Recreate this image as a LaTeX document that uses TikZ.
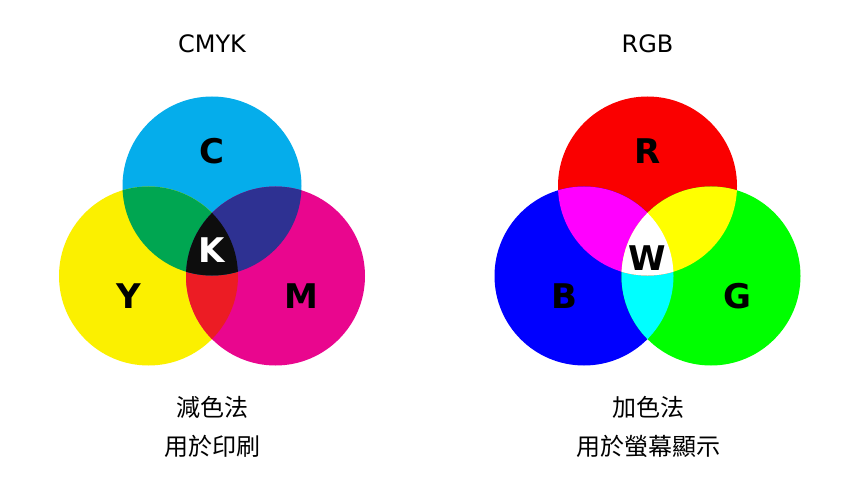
\documentclass[tikz,border=0pt]{standalone}
\usepackage{fontspec}
\setsansfont{DejaVu Sans}
\newfontfamily\cjk{Noto Sans CJK TC}

\definecolor{cyanP}{HTML}{05ADEB}
\definecolor{magentaP}{HTML}{E9068E}
\definecolor{yellowP}{HTML}{FBF000}
\definecolor{greenP}{HTML}{00A651}
\definecolor{blueP}{HTML}{2E3192}
\definecolor{redP}{HTML}{EC1C24}
\definecolor{blackP}{HTML}{0D0D0D}
\definecolor{redL}{HTML}{FA0000}
\definecolor{greenL}{HTML}{00FF00}
\definecolor{blueL}{HTML}{0000FF}
\definecolor{magentaL}{HTML}{FF00FF}
\definecolor{yellowL}{HTML}{FFFF00}
\definecolor{cyanL}{HTML}{00FFFF}

\begin{document}
\begin{tikzpicture}[x=1pt, y=-1pt]
    % Styles
    \tikzstyle{title} = [font=\sffamily\fontsize{24}{28}\selectfont, text=black]
    \tikzstyle{letter} = [font=\sffamily\bfseries\fontsize{34}{38}\selectfont, text=black]
    \tikzstyle{caption} = [font=\cjk\fontsize{24}{28}\selectfont, text=black]

    \fill[white] (0,0) rectangle (860,500);
    \useasboundingbox (0,0) rectangle (860,500);

    % CMYK
    \fill[cyanP] (212,186) circle (89.5pt);
    \fill[yellowP] (148.5,276) circle (89.5pt);
    \fill[magentaP] (275.5,276) circle (89.5pt);
    \begin{scope}
        \clip (148.5,276) circle (89.5pt);
        \fill[redP] (275.5,276) circle (89.5pt);
    \end{scope}
    \begin{scope}
        \clip (212,186) circle (89.5pt);
        \fill[greenP] (148.5,276) circle (89.5pt);
        \fill[blueP] (275.5,276) circle (89.5pt);
        \clip (148.5,276) circle (89.5pt);
        \fill[blackP] (275.5,276) circle (89.5pt);
    \end{scope}

    % RGB
    \fill[redL] (647.5,186) circle (89.5pt);
    \fill[blueL] (584,276) circle (89.5pt);
    \fill[greenL] (711,276) circle (89.5pt);
    \begin{scope}
        \clip (584,276) circle (89.5pt);
        \fill[cyanL] (711,276) circle (89.5pt);
    \end{scope}
    \begin{scope}
        \clip (647.5,186) circle (89.5pt);
        \fill[magentaL] (584,276) circle (89.5pt);
        \fill[yellowL] (711,276) circle (89.5pt);
        \clip (584,276) circle (89.5pt);
        \fill[white] (711,276) circle (89.5pt);
    \end{scope}

    % Titres
    \node (cmyk) [title] at (212,44) {CMYK};
    \node (rgb) [title] at (647.5,44) {RGB};

    % Lettres
    \node (c) [letter] at (212,151) {C};
    \node (y) [letter] at (129,296) {Y};
    \node (m) [letter] at (301,296) {M};
    \node (k) [letter, text=white] at (212,250) {K};
    \node (r) [letter] at (647.5,151) {R};
    \node (b) [letter] at (564,296) {B};
    \node (g) [letter] at (737,296) {G};
    \node (w) [letter] at (647.5,258) {W};

    % Légendes
    \node (sub) [caption] at (212,407) {減色法};
    \node (print) [caption] at (212,446) {用於印刷};
    \node (add) [caption] at (648,407) {加色法};
    \node (screen) [caption] at (648,446) {用於螢幕顯示};
\end{tikzpicture}
\end{document}
